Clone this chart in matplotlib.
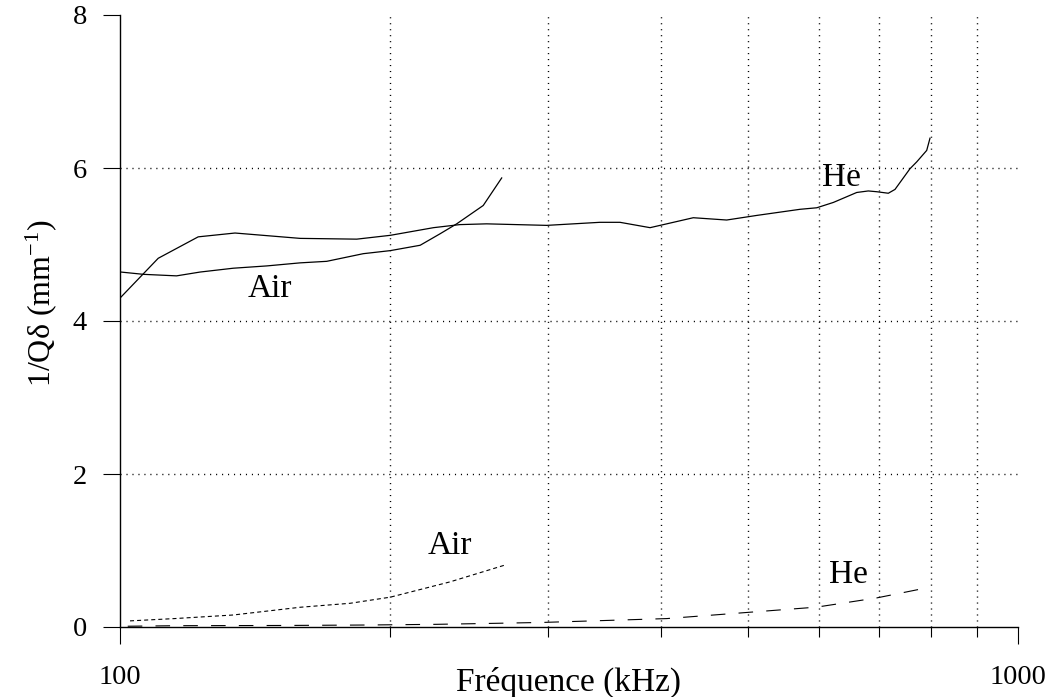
import matplotlib
matplotlib.use("Agg")
import matplotlib.pyplot as plt
from matplotlib.ticker import FixedLocator, NullFormatter, FixedFormatter

plt.rcParams['font.family'] = ['Liberation Serif', 'DejaVu Serif']
plt.rcParams['mathtext.fontset'] = 'custom'
plt.rcParams['mathtext.rm'] = 'Liberation Serif'
plt.rcParams['mathtext.it'] = 'Liberation Serif:italic'
plt.rcParams['lines.scale_dashes'] = False

# ---- data ----
air_solid_f = [100.2, 106.2, 115.6, 122.8, 133.7, 145.7, 158.7, 169.9, 186.6, 200, 215.9, 227.2, 237.1, 253.8, 266.1]
air_solid_y = [4.64, 4.61, 4.59, 4.64, 4.69, 4.72, 4.76, 4.78, 4.88, 4.92, 4.99, 5.14, 5.27, 5.51, 5.87]

he_solid_f = [100.2, 110.3, 122.2, 134.3, 158.7, 183.5, 200, 223.4, 239.0, 256.0, 298.7, 342.3, 360.4, 389.3,
              406.3, 434.9, 473.8, 511.7, 571.8, 596.9, 622.9, 661.3, 681.2, 696, 717.1, 729.5, 758, 771.3,
              791.3, 798]
he_solid_y = [4.31, 4.82, 5.10, 5.15, 5.08, 5.07, 5.12, 5.22, 5.26, 5.27, 5.25, 5.29, 5.29, 5.22,
              5.27, 5.35, 5.32, 5.38, 5.46, 5.48, 5.55, 5.68, 5.70, 5.69, 5.67, 5.72, 5.99, 6.08,
              6.23, 6.39]

air_dash_f = [102.6, 115.0, 133.7, 158.7, 180.4, 200, 233.1, 268.4]
air_dash_y = [0.08, 0.11, 0.157, 0.258, 0.31, 0.39, 0.59, 0.81]

he_dash_f = [102, 115.6, 152, 188.3, 225.3, 261.6, 296.1, 406.3, 498.9, 596.9, 696, 790]
he_dash_y = [0.01, 0.017, 0.02, 0.026, 0.035, 0.048, 0.06, 0.11, 0.19, 0.26, 0.38, 0.51]

x_ticks = [100, 1000]
x_ticklabels = ['100', '1000']
x_minor = [200, 300, 400, 500, 600, 700, 800, 900]
y_ticks = [0, 2, 4, 6, 8]

labels = [("Air", 146.9, 4.31), ("He", 635.4, 5.76), ("Air", 233.1, 0.957), ("He", 646.7, 0.577)]

# ---- figure ----
fig = plt.figure(figsize=(10.5, 6.97), dpi=100)
ax = fig.add_axes([120/1050, 1-627/697, 898/1050, 612/697])
ax.set_xscale('log')
ax.set_xlim(100, 1000)
ax.set_ylim(0, 8)

ax.plot(air_solid_f, air_solid_y, color='black', lw=0.9)
ax.plot(he_solid_f, he_solid_y, color='black', lw=0.9)
ax.plot(air_dash_f, air_dash_y, color='black', lw=0.8, linestyle=(0, (2.9, 2.2)))
ax.plot(he_dash_f, he_dash_y, color='black', lw=0.8, linestyle=(0, (10.5, 9.5)))

for txt, fx, fy in labels:
    ax.text(fx, fy, txt, fontsize=24, ha='center', va='baseline')

# ticks
ax.xaxis.set_major_locator(FixedLocator(x_ticks))
ax.xaxis.set_major_formatter(FixedFormatter(x_ticklabels))
ax.xaxis.set_minor_locator(FixedLocator(x_minor))
ax.xaxis.set_minor_formatter(NullFormatter())
ax.set_yticks(y_ticks)
ax.set_yticklabels([str(v) for v in y_ticks])

ax.tick_params(axis='x', which='major', direction='out', length=12.2, width=0.8, pad=15, labelsize=20.5)
ax.tick_params(axis='x', which='minor', direction='out', length=7.2, width=0.8)
ax.tick_params(axis='y', which='major', direction='out', length=12.2, width=0.8, pad=11.5, labelsize=20.5)

# grid
for xv in x_minor:
    ax.axvline(xv, color='black', lw=1.0, linestyle=(0, (0.8, 3.5)), zorder=0)
for yv in [2, 4, 6]:
    ax.axhline(yv, color='black', lw=1.0, linestyle=(0, (0.8, 3.5)), zorder=0)

for s in ['top', 'right']:
    ax.spines[s].set_visible(False)
for s in ['left', 'bottom']:
    ax.spines[s].set_linewidth(1.0)

fig.text(569/1050, 1-667/697, 'Fréquence (kHz)', fontsize=24, ha='center', va='top')
fig.text(41/1050, 1-303/697, '1/Q\u03b4 (mm$^{\\mathregular{-1}}$)', fontsize=23, ha='center', va='center',
         rotation=90)

fig.savefig('out.png', dpi=100)
